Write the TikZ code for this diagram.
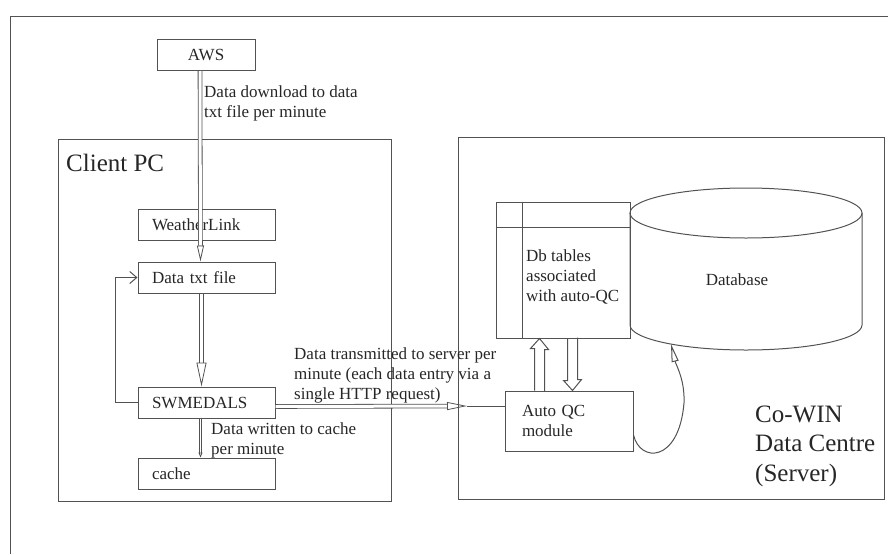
\documentclass[tikz,border=0pt]{standalone}
\usepackage{fontspec}
\setmainfont{Liberation Serif}
\usepackage{xcolor}
\usepackage{tikz}
\usetikzlibrary{positioning,calc,arrows.meta}

\definecolor{linecol}{gray}{0.32}
\definecolor{txtcol}{gray}{0.15}

\tikzset{
  box/.style={draw=linecol, line width=1pt, minimum height=31pt, inner xsep=14pt, inner ysep=0pt, text width=109pt, align=left, font=\fontsize{17}{20}\selectfont, text=txtcol},
  lbl/.style={anchor=west, inner sep=0pt, align=left, font=\fontsize{17}{20}\selectfont, text=txtcol},
  big/.style={anchor=west, inner sep=0pt, align=left, font=\fontsize{25}{29.5}\selectfont, text=txtcol},
  hollow/.style={draw=linecol, line width=0.8pt, double=white, double distance=#1},
  frame/.style={draw=linecol, line width=1pt}
}

\begin{document}
\begin{tikzpicture}[x=1pt, y=-1pt]
    \useasboundingbox (0,0) rectangle (896,554);
    % Outer frame
    \draw[frame] (888,16) -- (10,16) -- (10,554);

    % Client PC
    \draw[frame] (58,139) rectangle (391,501);
    \node[big] (clientlbl) at (66,163) {Client PC};
    \node[box, text width=70pt, align=center] (aws) at (206,55) {AWS};
    \node[box] (wlink) at (206.5,224.5) {WeatherLink};
    \node[box] (dtf) at (206.5,277.5) {Data txt file};
    \node[box] (swm) at (206.5,402.5) {SWMEDALS};
    \node[box] (cache) at (206.5,473.5) {cache};

    % Server
    \draw[frame] (458,137) rectangle (884,499);
    \node[big] (serverlbl) at (755,446) {Co-WIN\\Data Centre\\(Server)};
    \node[draw=linecol, line width=1pt, minimum width=134pt, minimum height=136pt, inner sep=0pt] (dbt) at (563,270) {};
    \draw[linecol, line width=1pt] ([xshift=27pt]dbt.north west) -- ([xshift=27pt]dbt.south west);
    \draw[linecol, line width=1pt] ([yshift=-26pt]dbt.north west) -- ([yshift=-26pt]dbt.north east);
    \node[lbl] (dbtlbl) at (526,277) {Db tables\\associated\\with auto-QC};
    \node[box, minimum height=60pt, inner xsep=17pt, text width=94pt] (aqc) at (569,421) {Auto QC\\module};

    % Database
    \draw[frame] (630,213) -- (630,325) arc[start angle=180, end angle=0, x radius=116, y radius=25] -- (862,213);
    \draw[frame] (746,213) ellipse[x radius=116, y radius=25];
    \node[lbl, anchor=center] (db) at (737,280) {Database};
    \coordinate (dbbot) at (671,344);

    % Labels
    \node[lbl] (dllbl) at (204,103) {Data download to data\\txt file per minute};
    \node[lbl] (txlbl) at (294,375) {Data transmitted to server per\\minute (each data entry via a\\single HTTP request)};
    \node[lbl] (calbl) at (211,440) {Data written to cache\\per minute};

    % Arrows
    \draw[hollow=3pt, -{Triangle[open, length=16pt, width=7pt]}] ([xshift=-6pt]aws.south) -- ([xshift=-6pt]dtf.north);
    \draw[hollow=3pt, -{Triangle[open, length=24pt, width=10pt]}] ([xshift=-5pt]dtf.south) -- ([xshift=-5pt]swm.north);
    \draw[hollow=1pt, -{Triangle[open, length=5pt, width=4pt]}] ([xshift=-6pt]swm.south) -- ([xshift=-6pt]cache.north);
    \draw[linecol, line width=1pt, -{Straight Barb[length=7pt, width=12pt]}] (swm.west) -- ++(-22,0) |- (dtf.west);
    \coordinate (tipend) at (467,406);
    \draw[hollow=3pt, -{Triangle[open, length=20pt, width=8pt]}] ([yshift=-4pt]swm.east) -- (tipend);
    \draw[linecol, line width=1pt] (tipend) -- (aqc.west |- tipend);
    % Block arrows Auto QC <-> Db tables
    \coordinate (upx) at ($(aqc.north west)+(35,0)$);
    \draw[frame] ($(upx)+(-5,0)$) -- ++(0,-42) -- ++(-4,0) -- (upx |- dbt.south) -- ++(9,11) -- ++(-4,0) -- ++(0,42);
    \coordinate (dnx) at ($(dbt.south west)+(77,0)$);
    \draw[frame] ($(dnx)+(-5,0)$) -- ++(0,42) -- ++(-4,0) -- (dnx |- aqc.north) -- ++(9,-11) -- ++(-4,0) -- ++(0,-42);
    % Loop back to database
    \draw[linecol, line width=1pt, -{Triangle[open, length=18pt, width=7pt]}] ([yshift=-14pt]aqc.east) .. controls (640,463) and (679,463) .. (684,403) .. controls (685,380) and (676,365) .. (dbbot);
\end{tikzpicture}
\end{document}
